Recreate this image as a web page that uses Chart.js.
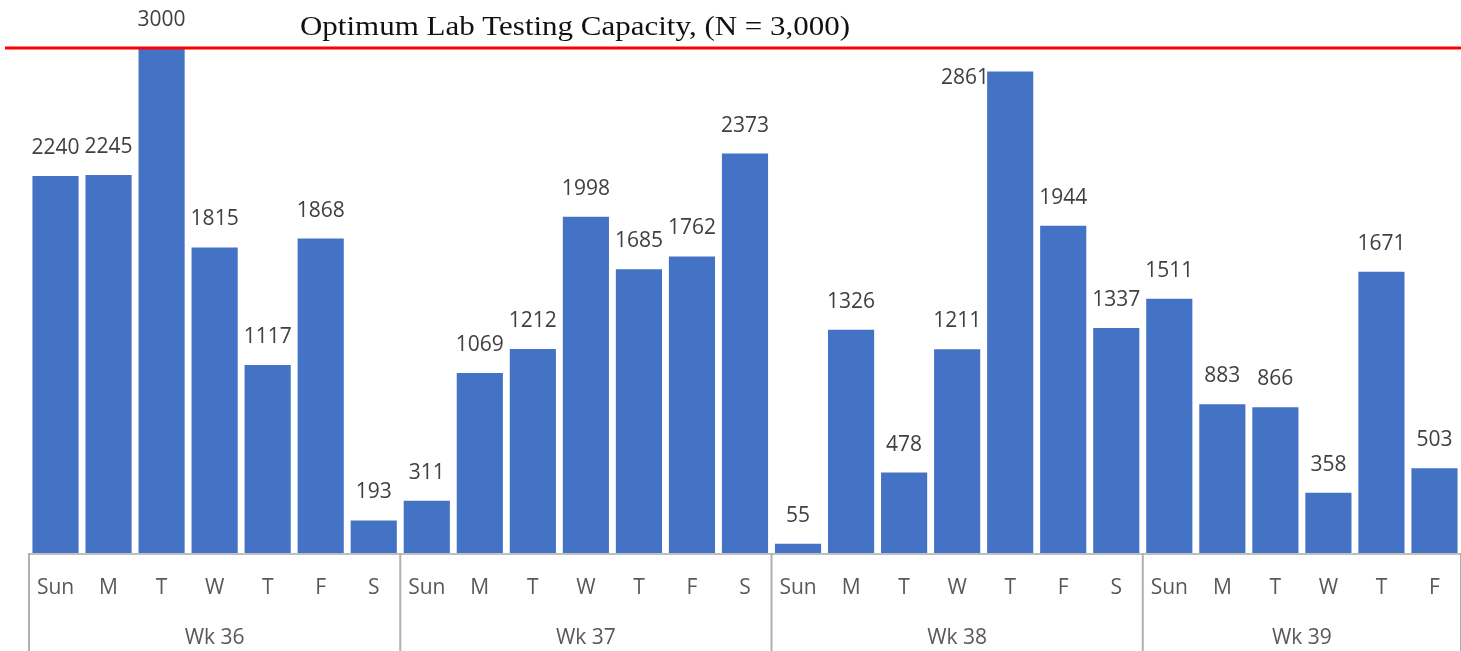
<!DOCTYPE html>
<html>
<head>
<meta charset="utf-8">
<script src="https://cdn.jsdelivr.net/npm/chart.js@4.4.1/dist/chart.umd.min.js"></script>
<style>
html,body{margin:0;padding:0;background:#fff;}
#wrap{position:relative;width:1461px;height:651px;}
</style>
</head>
<body>
<div id="wrap"><canvas id="c" width="1461" height="651"></canvas></div>
<script>
const dayLabels = ['Sun','M','T','W','T','F','S','Sun','M','T','W','T','F','S','Sun','M','T','W','T','F','S','Sun','M','T','W','T','F'];
const weekLabels = ['Wk 36','Wk 37','Wk 38','Wk 39'];
const weekSizes = [7, 7, 7, 6];
const testsPerDay = [2240,2245,3000,1815,1117,1868,193, 311,1069,1212,1998,1685,1762,2373, 55,1326,478,1211,2861,1944,1337, 1511,883,866,358,1671,503];
const capacity = 3000;
const titleText = 'Optimum Lab Testing Capacity, (N = 3,000)';

const overlay = {
  id: 'overlay',
  afterDatasetsDraw(chart) {
    const ctx = chart.ctx;
    const x = chart.scales.x, y = chart.scales.y;
    const area = chart.chartArea;
    const half = (x.getPixelForValue(1) - x.getPixelForValue(0)) / 2;
    const capY = y.getPixelForValue(capacity);
    ctx.save();
    // capacity line
    ctx.strokeStyle = '#ff0000';
    ctx.lineWidth = 3;
    ctx.beginPath(); ctx.moveTo(5, capY); ctx.lineTo(chart.width, capY); ctx.stroke();
    // title
    ctx.fillStyle = '#111';
    ctx.font = '28px "Liberation Serif", serif';
    ctx.textBaseline = 'middle';
    ctx.textAlign = 'center';
    const tw = ctx.measureText(titleText).width;
    ctx.save();
    ctx.translate(575, 28);
    ctx.scale(550 / tw, 1);
    ctx.fillText(titleText, 0, 0);
    ctx.restore();
    // data labels
    const meta = chart.getDatasetMeta(0);
    ctx.font = '21px "Open Sans", sans-serif';
    ctx.fillStyle = '#404040';
    meta.data.forEach((bar, i) => {
      const v = testsPerDay[i];
      const ly = bar.y - 28;
      if (v < capacity && Math.abs(ly - capY) < 20) {
        ctx.textAlign = 'right';
        ctx.fillText(String(v), bar.x - bar.width / 2 + 2, bar.y + 7);
      } else {
        ctx.textAlign = 'center';
        ctx.fillText(String(v), bar.x, ly);
      }
    });
    // axis line
    ctx.strokeStyle = '#bfbfbf';
    ctx.lineWidth = 2;
    ctx.beginPath(); ctx.moveTo(area.left, area.bottom + 1); ctx.lineTo(area.right, area.bottom + 1); ctx.stroke();
    // separators & labels
    ctx.font = '21px "Open Sans", sans-serif';
    ctx.fillStyle = '#595959';
    ctx.textAlign = 'center';
    dayLabels.forEach((d, i) => {
      ctx.fillText(d, x.getPixelForValue(i), 588);
    });
    let start = 0;
    ctx.strokeStyle = '#b0b0b0';
    ctx.lineWidth = 2;
    weekSizes.forEach((n, w) => {
      const left = x.getPixelForValue(start) - half;
      const right = x.getPixelForValue(start + n - 1) + half;
      ctx.beginPath(); ctx.moveTo(left, area.bottom); ctx.lineTo(left, chart.height); ctx.stroke();
      if (w === weekSizes.length - 1) {
        ctx.beginPath(); ctx.moveTo(right, area.bottom); ctx.lineTo(right, chart.height); ctx.stroke();
      }
      ctx.fillText(weekLabels[w], (left + right) / 2, 638);
      start += n;
    });
    ctx.restore();
  }
};

new Chart(document.getElementById('c'), {
  type: 'bar',
  data: {
    labels: dayLabels,
    datasets: [{
      data: testsPerDay,
      backgroundColor: '#4472C4',
      borderWidth: 0,
      categoryPercentage: 1,
      barPercentage: 0.87
    }]
  },
  options: {
    responsive: false,
    animation: false,
    layout: { padding: { left: 29, right: 0, top: 48, bottom: 98 } },
    plugins: { legend: { display: false }, tooltip: { enabled: false }, title: { display: false } },
    scales: {
      x: { display: false, offset: true },
      y: { display: false, min: 0, max: capacity }
    }
  },
  plugins: [overlay]
});
</script>
</body>
</html>
